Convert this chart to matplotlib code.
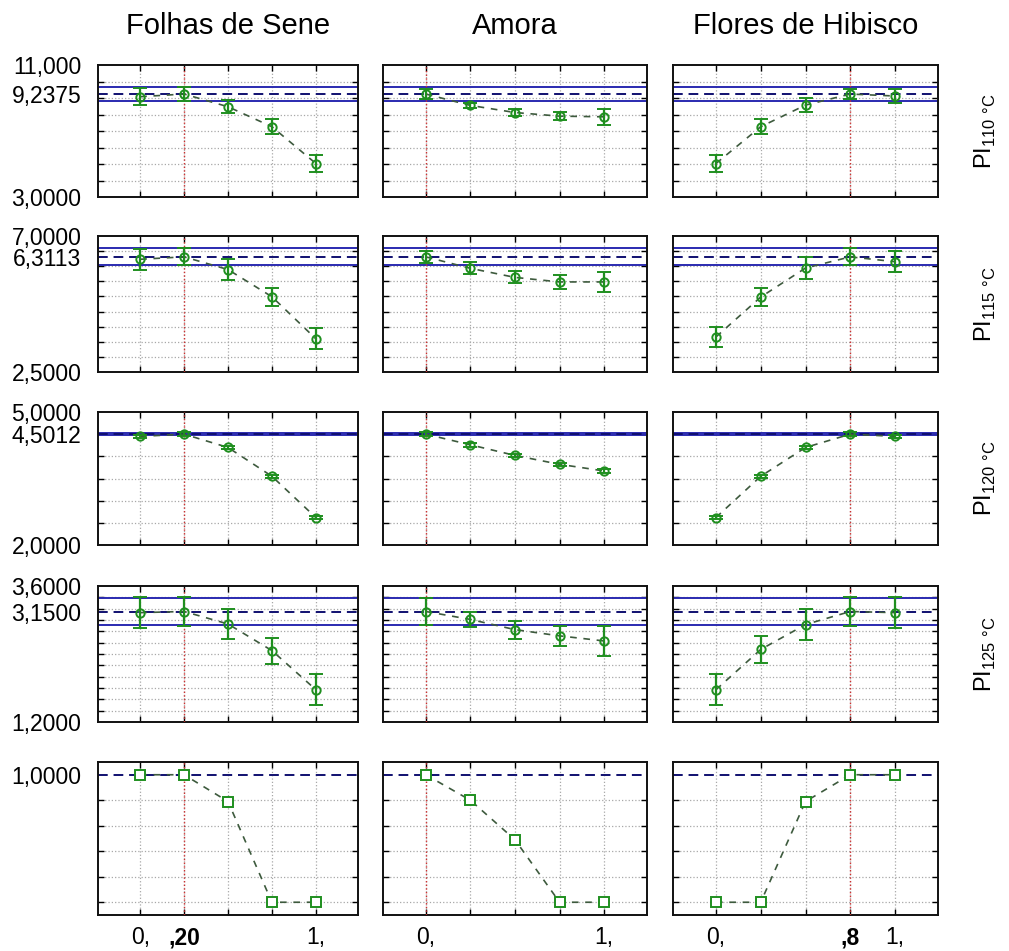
import numpy as np
import matplotlib
matplotlib.use("Agg")
import matplotlib.pyplot as plt
from matplotlib.ticker import FixedLocator

plt.rcParams['font.family'] = ['Liberation Sans', 'DejaVu Sans']

# factor levels (mixture proportion of each ingredient)
levels = [0.0, 0.25, 0.5, 0.75, 1.0]
ingredients = ['Folhas de Sene', 'Amora', 'Flores de Hibisco']
responses = ['110', '115', '120', '125']

# predicted response at the current setting and half-width of its confidence band
pred_value = [9.2375, 6.3113, 4.5012, 3.15]
band_half = [0.41, 0.28, 0.03, 0.24]
y_limits = [(3.0, 11.0), (2.5, 7.0), (2.0, 5.0), (1.2, 3.6)]
grid_step = [1.0, 0.5, 0.5, 0.2]

# profile values (rows = response, cols = level)
sene_mean = [[9.08, 9.24, 8.47, 7.26, 5.03],
             [6.23, 6.31, 5.89, 4.99, 3.60],
             [4.45, 4.50, 4.20, 3.55, 2.62],
             [3.13, 3.15, 2.93, 2.46, 1.77]]
sene_err = [[0.50, 0.45, 0.40, 0.45, 0.50],
            [0.34, 0.28, 0.36, 0.29, 0.34],
            [0.04, 0.04, 0.04, 0.04, 0.04],
            [0.27, 0.25, 0.27, 0.23, 0.27]]
amora_mean = [[9.24, 8.55, 8.12, 7.90, 7.86],
              [6.31, 5.93, 5.63, 5.48, 5.48],
              [4.50, 4.26, 4.02, 3.82, 3.67],
              [3.15, 3.01, 2.83, 2.72, 2.63]]
amora_err = [[0.30, 0.15, 0.20, 0.25, 0.50],
             [0.20, 0.20, 0.20, 0.22, 0.33],
             [0.04, 0.04, 0.04, 0.04, 0.04],
             [0.24, 0.13, 0.16, 0.18, 0.27]]
hibisco_mean = [[5.03, 7.26, 8.57, 9.24, 9.12],
                [3.66, 4.98, 5.94, 6.31, 6.15],
                [2.62, 3.55, 4.20, 4.50, 4.45],
                [1.77, 2.48, 2.92, 3.15, 3.13]]
hibisco_err = [[0.50, 0.45, 0.40, 0.30, 0.45],
               [0.34, 0.30, 0.36, 0.28, 0.34],
               [0.04, 0.04, 0.04, 0.04, 0.04],
               [0.27, 0.23, 0.27, 0.25, 0.27]]

# desirability profiles
sene_desir = [1.0, 1.0, 0.79, 0.0, 0.0]
amora_desir = [1.0, 0.80, 0.49, 0.0, 0.0]
hibisco_desir = [0.0, 0.0, 0.79, 1.0, 1.0]

# current setting of each factor and its tick labels
current_level = [0.25, 0.0, 0.75]
x_tick_text = [{0.0: '0,', 0.25: ',20', 1.0: '1,'},
               {0.0: '0,', 1.0: '1,'},
               {0.0: '0,', 0.75: ',8', 1.0: '1,'}]
bold_ticks = [',20', ',8']

means = [sene_mean, amora_mean, hibisco_mean]
errs = [sene_err, amora_err, hibisco_err]
desirs = [sene_desir, amora_desir, hibisco_desir]

W, H = 1009, 951
col_x = [(98, 358), (383, 647), (673, 938)]
row_y = [(65, 197), (236, 372), (412, 545), (586, 722), (762, 915)]

GREEN = '#1f8f1f'
LINE = '#3d5a3d'
NAVY = '#101070'
BLUE = '#2a2ab0'
RED = '#d03030'
GRIDC = '#a8a8a8'


def fmt(v):
    digits = len(str(int(v)))
    return f"{v:.{5 - digits}f}".replace('.', ',')


fig = plt.figure(figsize=(W / 100, H / 100), dpi=100)

for c in range(3):
    for r in range(5):
        x0, x1 = col_x[c]
        y0, y1 = row_y[r]
        ax = fig.add_axes([x0 / W, 1 - y1 / H, (x1 - x0) / W, (y1 - y0) / H])
        ax.set_xlim(-0.24, 1.24)

        if r < 4:
            lo, hi = y_limits[r]
            ax.set_ylim(lo, hi)
            grid_vals = np.arange(lo + grid_step[r], hi - 1e-6, grid_step[r])
            p = pred_value[r]
            ax.axhline(p + band_half[r], color=BLUE, lw=1.4, zorder=2)
            ax.axhline(p - band_half[r], color=BLUE, lw=1.4, zorder=2)
            ax.axhline(p, color=NAVY, lw=1.4, ls=(0, (5, 3)), zorder=2)
            ax.plot(levels, means[c][r], color=LINE, lw=1.2, ls=(0, (4, 4)), zorder=3)
            ax.errorbar(levels, means[c][r], yerr=errs[c][r], fmt='o', ms=6,
                        mfc='none', mec=GREEN, mew=1.4, ecolor=GREEN,
                        elinewidth=1.6, capsize=5, capthick=1.6, zorder=4)
            major = [lo, p, hi]
        else:
            ax.set_ylim(-0.1, 1.1)
            grid_vals = np.arange(0.0, 0.81, 0.2)
            ax.axhline(1.0, color=NAVY, lw=1.4, ls=(0, (5, 3)), zorder=2)
            ax.plot(levels, desirs[c], color=LINE, lw=1.2, ls=(0, (4, 4)),
                    marker='s', ms=7, mfc='white', mec=GREEN, mew=1.4, zorder=4)
            major = [1.0]

        ax.axvline(current_level[c], color=RED, lw=1.0, ls=':', zorder=3)

        # y: grid on minor ticks, text only on the major ones
        ax.yaxis.set_minor_locator(FixedLocator(grid_vals))
        ax.set_yticks(major)
        ax.set_yticklabels([fmt(v) for v in major] if c == 0 else [])
        ax.grid(True, which='minor', axis='y', color=GRIDC, ls=':', lw=0.9)
        ax.tick_params(axis='y', which='major', length=0, pad=12, labelsize=16.5)
        ax.tick_params(axis='y', which='minor', direction='in', length=4,
                       left=True, right=True, width=1)

        ax.set_xticks(levels)
        if r == 4:
            labels = [x_tick_text[c].get(v, '') for v in levels]
            ax.set_xticklabels(labels)
            for t in ax.get_xticklabels():
                if t.get_text() in bold_ticks:
                    t.set_fontweight('bold')
        else:
            ax.set_xticklabels([])
        ax.grid(True, which='major', axis='x', color=GRIDC, ls=':', lw=0.9)
        ax.tick_params(axis='x', direction='in', length=4, top=True, bottom=True,
                       width=1, labelsize=16.5, pad=8)

        for s in ax.spines.values():
            s.set_linewidth(1.4)
            s.set_color('#111111')
        ax.set_axisbelow(True)

        if r == 0:
            ax.set_title(ingredients[c], fontsize=21, pad=22)
        if c == 2 and r < 4:
            fig.text(985 / W, 1 - (y0 + y1) / 2 / H,
                     'PI$_{\\mathregular{' + responses[r] + '\\ °C}}$',
                     rotation=90, ha='center', va='center', fontsize=17)

fig.savefig('out.png', dpi=100, facecolor='white')
